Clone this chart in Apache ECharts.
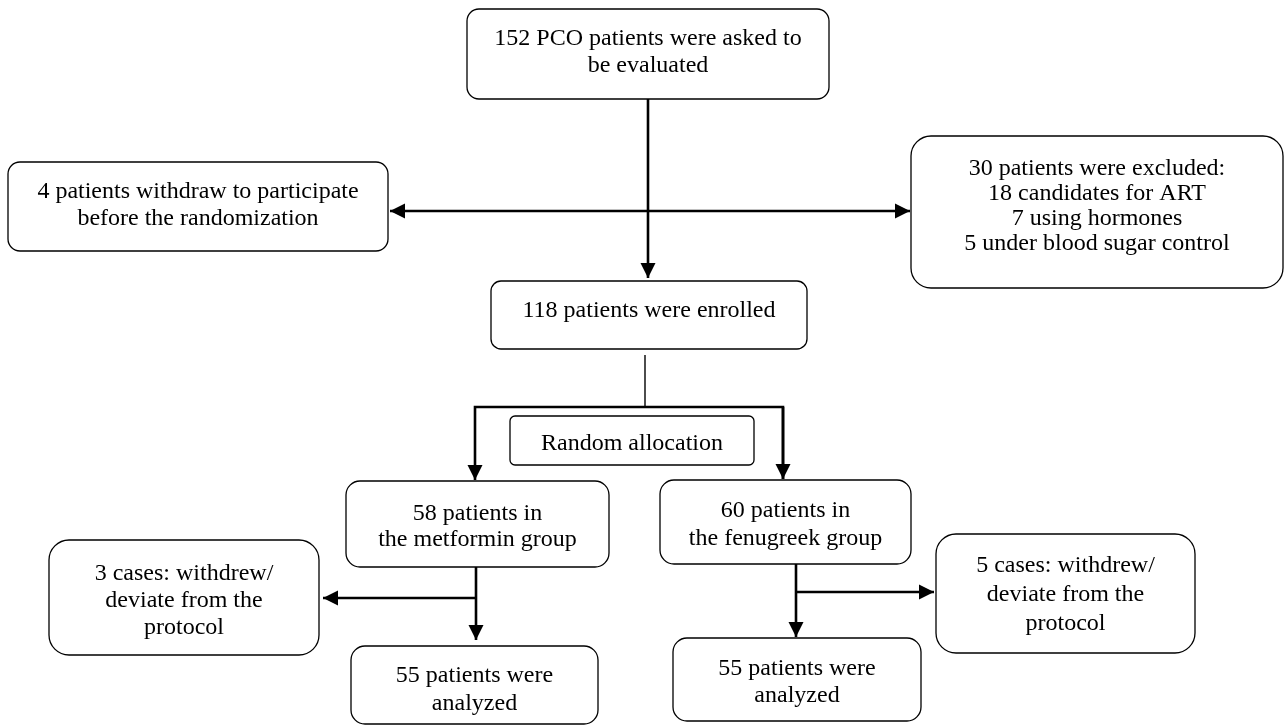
<!DOCTYPE html>
<html>
<head>
<meta charset="utf-8">
<script src="https://cdn.jsdelivr.net/npm/echarts@6/dist/echarts.min.js"></script>
<style>
html,body{margin:0;padding:0;background:#fff;}
#chart{width:1285px;height:726px;}
</style>
</head>
<body>
<div id="chart"></div>
<script>
// Box texts (content)
const boxTexts = [
  '152 PCO patients were asked to\nbe evaluated',
  '4 patients withdraw to participate\nbefore the randomization',
  '30 patients were excluded:\n18 candidates for ART\n7 using hormones\n5 under blood sugar control',
  '118 patients were enrolled',
  'Random allocation',
  '58 patients in\nthe metformin group',
  '60 patients in\nthe fenugreek group',
  '3 cases: withdrew/\ndeviate from the\nprotocol',
  '5 cases: withdrew/\ndeviate from the\nprotocol',
  '55 patients were\nanalyzed',
  '55 patients were\nanalyzed'
];

// Layout of boxes (page coordinates)
const boxLayout = [
  {x0:467, y0:9,   x1:829,  y1:99,  r:12, ty:52.5, lh:27},
  {x0:8,   y0:162, x1:388,  y1:251, r:12, ty:205.5, lh:27},
  {x0:911, y0:136, x1:1283, y1:288, r:20, ty:206.5, lh:25},
  {x0:491, y0:281, x1:807,  y1:349, r:10, ty:311,  lh:27},
  {x0:510, y0:416, x1:754,  y1:465, r:5,  ty:444,  lh:27},
  {x0:346, y0:481, x1:609,  y1:567, r:14, ty:527,  lh:26},
  {x0:660, y0:480, x1:911,  y1:564, r:14, ty:525,  lh:28},
  {x0:49,  y0:540, x1:319,  y1:655, r:20, ty:601,  lh:27},
  {x0:936, y0:534, x1:1195, y1:653, r:20, ty:594.5, lh:29},
  {x0:351, y0:646, x1:598,  y1:724, r:14, ty:690,  lh:28},
  {x0:673, y0:638, x1:921,  y1:721, r:14, ty:682.5, lh:27}
];

// Connectors: polylines, optional arrowhead at end
const connectors = [
  {pts:[[648,99],[648,278]], arrow:true, w:2.6},
  {pts:[[648,211],[390,211]], arrow:true, w:2.6},
  {pts:[[648,211],[910,211]], arrow:true, w:2.6},
  {pts:[[645,355],[645,407]], arrow:false, w:1.4},
  {pts:[[783,479],[783,407],[475,407],[475,480]], arrow:true, w:2.6},
  {pts:[[783,407],[783,479]], arrow:true, w:2.6},
  {pts:[[476,567],[476,640]], arrow:true, w:2.6},
  {pts:[[476,598],[323,598]], arrow:true, w:2.6},
  {pts:[[796,564],[796,637]], arrow:true, w:2.6},
  {pts:[[797,592],[934,592]], arrow:true, w:2.6}
];

const FONT = '24px "Liberation Serif", "Times New Roman", serif';

const chart = echarts.init(document.getElementById('chart'), null, {renderer:'canvas'});

const option = {
  animation:false,
  backgroundColor:'#fff',
  grid:{left:0,right:0,top:0,bottom:0},
  xAxis:{type:'value',min:0,max:1285,show:false},
  yAxis:{type:'value',min:0,max:726,inverse:true,show:false},
  series:[
    {
      type:'custom',
      clip:false,
      z:1,
      data:connectors.map((c,i)=>[c.pts[0][0],c.pts[0][1],i]),
      renderItem:function(params, api){
        const c = connectors[api.value(2)];
        const pts = c.pts.map(p=>api.coord(p));
        const children = [{
          type:'polyline',
          shape:{points:pts},
          style:{stroke:'#000',lineWidth:c.w,fill:null,lineJoin:'miter',lineCap:'butt'}
        }];
        if(c.arrow){
          const a = pts[pts.length-2], b = pts[pts.length-1];
          const dx=b[0]-a[0], dy=b[1]-a[1];
          const len=Math.sqrt(dx*dx+dy*dy);
          const ux=dx/len, uy=dy/len;
          const L=15, H=7.5;
          const bx=b[0]-ux*L, by=b[1]-uy*L;
          children.push({
            type:'polygon',
            shape:{points:[[b[0],b[1]],[bx-uy*H,by+ux*H],[bx+uy*H,by-ux*H]]},
            style:{fill:'#000',stroke:null}
          });
        }
        return {type:'group',children:children};
      }
    },
    {
      type:'custom',
      clip:false,
      z:2,
      data:boxLayout.map((b,i)=>[b.x0,b.y0,i]),
      renderItem:function(params, api){
        const i = api.value(2);
        const b = boxLayout[i];
        const p0 = api.coord([b.x0,b.y0]);
        const p1 = api.coord([b.x1,b.y1]);
        const tc = api.coord([(b.x0+b.x1)/2, b.ty]);
        return {type:'group',children:[
          {type:'rect',
           shape:{x:p0[0],y:p0[1],width:p1[0]-p0[0],height:p1[1]-p0[1],r:b.r},
           style:{fill:'#fff',stroke:'#000',lineWidth:1.3}},
          {type:'text',x:tc[0],y:tc[1],
           style:{text:boxTexts[i],font:FONT,fill:'#000',align:'center',verticalAlign:'middle',lineHeight:b.lh}}
        ]};
      }
    }
  ]
};
chart.setOption(option);
</script>
</body>
</html>
